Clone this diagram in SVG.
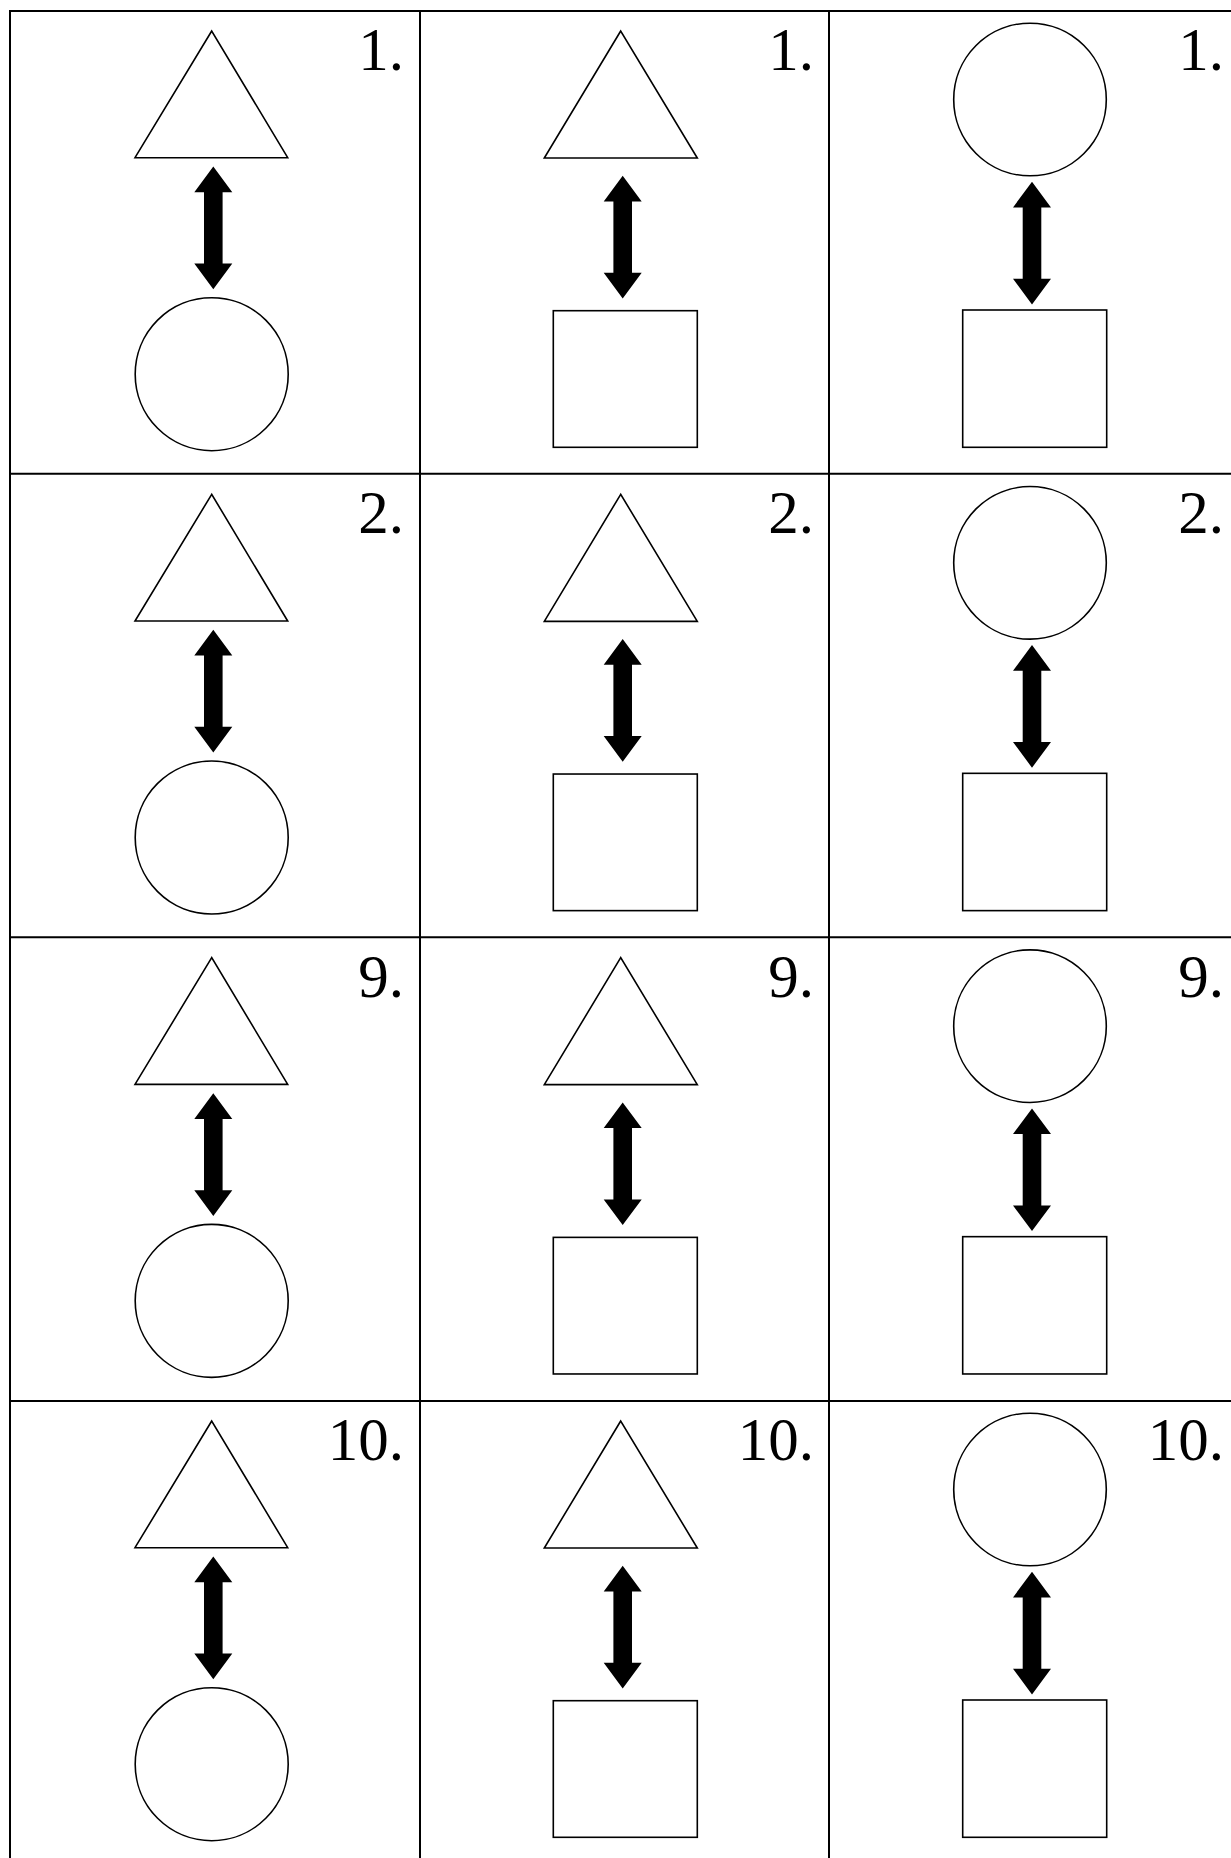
<svg xmlns="http://www.w3.org/2000/svg" xmlns:xlink="http://www.w3.org/1999/xlink" width="1231" height="1858" viewBox="0 0 1231 1858">
<style>
.grid{fill:none;stroke:#000;stroke-width:2}
.shape{fill:#fff;stroke:#000;stroke-width:1.6}
.num{font-family:"Liberation Serif","Times New Roman",serif;font-size:61px;fill:#000;text-anchor:end}
</style>
<defs>
<path id="arr" d="M0,0 L19,25.7 L9.3,25.7 L9.3,97 L19,97 L0,122.7 L-19,97 L-9.3,97 L-9.3,25.7 L-19,25.7 Z" fill="#000"/>
<g id="c1">
<polygon class="shape" points="211.7,31 135,157.7 287.7,157.7"/>
<circle class="shape" cx="211.7" cy="374.2" r="76.5"/>
</g>
<g id="c2">
<polygon class="shape" points="620.7,31 544.3,158 697.3,158"/>
<rect class="shape" x="553.3" y="310.7" width="144" height="136.6"/>
</g>
<g id="c3">
<circle class="shape" cx="1030" cy="99.5" r="76.3"/>
<rect class="shape" x="962.7" y="310" width="144" height="137.3"/>
</g>
</defs>
<rect width="1231" height="1858" fill="#fff"/>
<g id="grid">
<rect class="grid" x="10" y="11" width="1234" height="1853"/>
<line class="grid" x1="420" y1="11" x2="420" y2="1864"/>
<line class="grid" x1="829" y1="11" x2="829" y2="1864"/>
<line class="grid" x1="10" y1="473.7" x2="1244" y2="473.7"/>
<line class="grid" x1="10" y1="937.3" x2="1244" y2="937.3"/>
<line class="grid" x1="10" y1="1401" x2="1244" y2="1401"/>
</g>
<g id="row1">
<g id="r1c1"><use href="#c1"/><text class="num" x="404" y="70">1.</text></g>
<g id="r1c2"><use href="#c2"/><text class="num" x="814" y="70">1.</text></g>
<g id="r1c3"><use href="#c3"/><text class="num" x="1224" y="70">1.</text></g>
</g>
<g id="row2" transform="translate(0,463.33)">
<g id="r2c1"><use href="#c1"/><text class="num" x="404" y="70">2.</text></g>
<g id="r2c2"><use href="#c2"/><text class="num" x="814" y="70">2.</text></g>
<g id="r2c3"><use href="#c3"/><text class="num" x="1224" y="70">2.</text></g>
</g>
<g id="row3" transform="translate(0,926.67)">
<g id="r3c1"><use href="#c1"/><text class="num" x="404" y="70">9.</text></g>
<g id="r3c2"><use href="#c2"/><text class="num" x="814" y="70">9.</text></g>
<g id="r3c3"><use href="#c3"/><text class="num" x="1224" y="70">9.</text></g>
</g>
<g id="row4" transform="translate(0,1390)">
<g id="r4c1"><use href="#c1"/><text class="num" x="404" y="70">10.</text></g>
<g id="r4c2"><use href="#c2"/><text class="num" x="814" y="70">10.</text></g>
<g id="r4c3"><use href="#c3"/><text class="num" x="1224" y="70">10.</text></g>
</g>
<g id="connectors">
<use href="#arr" x="213.3" y="166.5"/><use href="#arr" x="622.7" y="175.7"/><use href="#arr" x="1032" y="181.7"/>
<use href="#arr" x="213.3" y="629.8"/><use href="#arr" x="622.7" y="639"/><use href="#arr" x="1032" y="645"/>
<use href="#arr" x="213.3" y="1093.2"/><use href="#arr" x="622.7" y="1102.4"/><use href="#arr" x="1032" y="1108.4"/>
<use href="#arr" x="213.3" y="1556.5"/><use href="#arr" x="622.7" y="1565.7"/><use href="#arr" x="1032" y="1571.7"/>
</g>
</svg>
